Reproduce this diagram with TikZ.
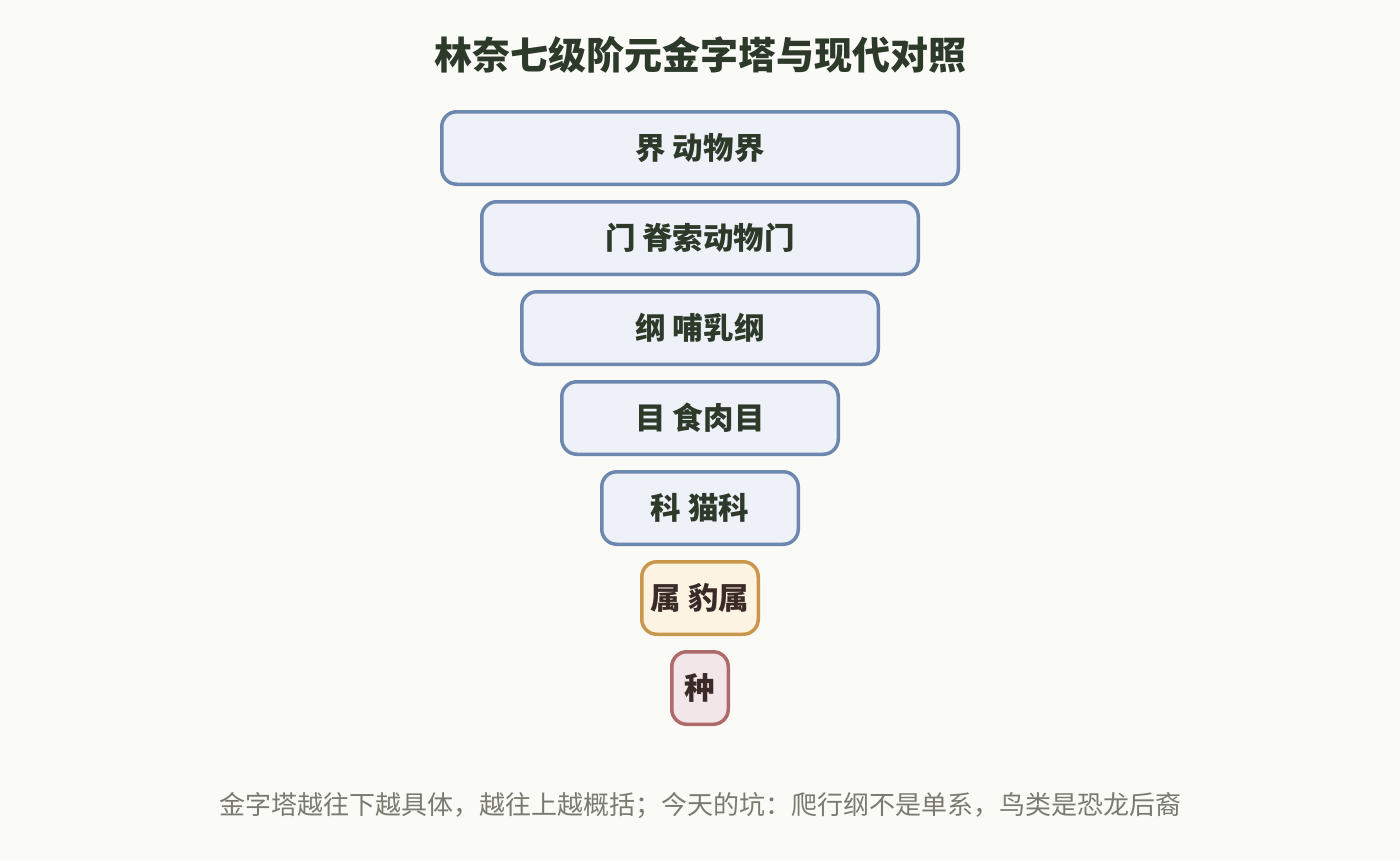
\documentclass[tikz,border=0pt]{standalone}
\usepackage{fontspec}
\newfontfamily\cjk{Noto Sans CJK SC}
\definecolor{bgpaper}{HTML}{FAFAF6}
\definecolor{inkdark}{HTML}{2D3A2A}
\definecolor{inkgray}{HTML}{7A7A70}
\definecolor{blueline}{HTML}{6D87AF}
\definecolor{bluefill}{HTML}{EEF1F7}
\definecolor{goldline}{HTML}{C9974B}
\definecolor{goldfill}{HTML}{FDF3E3}
\definecolor{redline}{HTML}{AF6B6C}
\definecolor{redfill}{HTML}{F3E6E8}
\definecolor{inkbrown}{HTML}{3A2A28}

\begin{document}
\begin{tikzpicture}[x=1pt, y=-1pt,
		lvl/.style={draw=blueline, fill=bluefill, line width=3.5pt, rounded corners=15pt,
			minimum height=72.5pt, inner sep=0pt, text=inkdark,
			font=\cjk\bfseries\fontsize{30.5}{36}\selectfont},
		genus/.style={lvl, draw=goldline, fill=goldfill, text=inkbrown},
		species/.style={lvl, draw=redline, fill=redfill, text=inkbrown}]
		\fill [bgpaper] (0, 0) rectangle (1400, 860);
		\useasboundingbox (0, 0) rectangle (1400, 860);

		\node [text=inkdark, font=\cjk\bfseries\fontsize{38}{45}\selectfont] (title) at (700, 55) {林奈七级阶元金字塔与现代对照};

		\node [lvl, minimum width=516.5pt] (1) at (700, 148) {界 动物界};
		\node [lvl, minimum width=436.5pt] (2) at (700, 238) {门 脊索动物门};
		\node [lvl, minimum width=356.5pt] (3) at (700, 328) {纲 哺乳纲};
		\node [lvl, minimum width=276.5pt] (4) at (700, 418) {目 食肉目};
		\node [lvl, minimum width=196.5pt] (5) at (700, 508) {科 猫科};
		\node [genus, minimum width=116.5pt] (6) at (700, 598) {属 豹属};
		\node [species, minimum width=56.5pt] (7) at (700, 688) {种};

		\node [text=inkgray, font=\cjk\fontsize{26}{31}\selectfont] (note) at (700, 806) {金字塔越往下越具体，越往上越概括；今天的坑：爬行纲不是单系，鸟类是恐龙后裔};
	\end{tikzpicture}
\end{document}
